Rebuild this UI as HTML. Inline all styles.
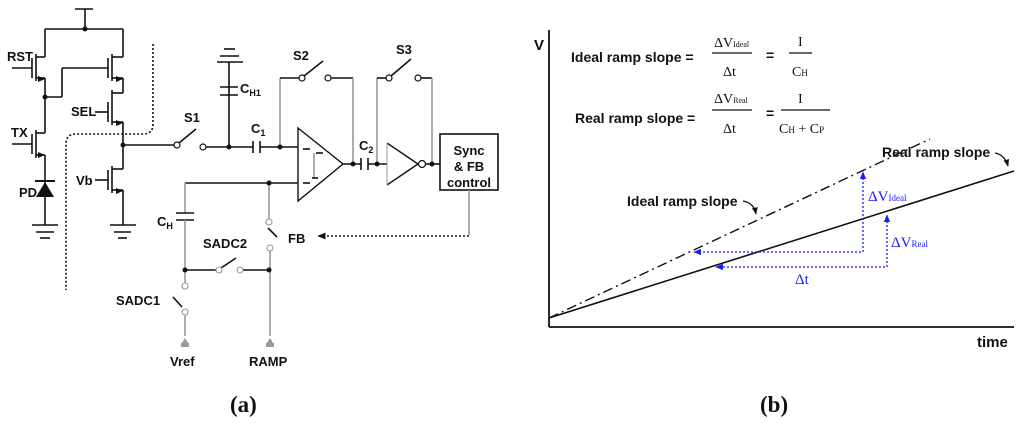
<!DOCTYPE html>
<html><head><meta charset="utf-8"><style>
html,body{margin:0;padding:0;background:#fff;}
svg{display:block;}
.b{font-family:"Liberation Sans",Arial,sans-serif;font-weight:bold;fill:#111;}
.s{font-family:"Liberation Serif",serif;fill:#111;}
.bl{font-family:"Liberation Serif",serif;fill:#1a1aff;}
</style></head><body>
<svg width="1024" height="423" viewBox="0 0 1024 423" xmlns="http://www.w3.org/2000/svg">
<defs>
<marker id="ah" viewBox="0 0 10 10" refX="9" refY="5" markerWidth="6" markerHeight="6" orient="auto-start-reverse"><path d="M0,1 L10,5 L0,9z" fill="#1a1aff"/></marker>
<marker id="ak" viewBox="0 0 10 10" refX="9" refY="5" markerWidth="6" markerHeight="6" orient="auto"><path d="M0,1 L10,5 L0,9z" fill="#111"/></marker>
</defs>
<g stroke="#111" stroke-width="1.6" fill="none">
<line x1="75" y1="9" x2="93" y2="9"/>
<line x1="85" y1="9" x2="85" y2="29"/>
<line x1="45" y1="29" x2="123" y2="29"/>
<line x1="45" y1="29" x2="45" y2="57"/>
<line x1="36" y1="57" x2="45" y2="57"/><line x1="36" y1="78" x2="45" y2="78"/>
<line x1="36" y1="54" x2="36" y2="81"/><line x1="32" y1="58" x2="32" y2="78"/>
<line x1="12" y1="68" x2="32" y2="68"/>
<line x1="45" y1="78" x2="45" y2="133"/>
<line x1="45" y1="97" x2="62" y2="97"/><line x1="62" y1="97" x2="62" y2="68"/><line x1="62" y1="68" x2="108" y2="68"/>
<line x1="36" y1="133" x2="45" y2="133"/><line x1="36" y1="155" x2="45" y2="155"/>
<line x1="36" y1="130" x2="36" y2="158"/><line x1="32" y1="134" x2="32" y2="154"/>
<line x1="12" y1="144" x2="32" y2="144"/>
<line x1="45" y1="155" x2="45" y2="225"/>
<line x1="32" y1="225" x2="58" y2="225"/><line x1="36" y1="232" x2="54" y2="232"/><line x1="40" y1="238" x2="50" y2="238"/>
<line x1="123" y1="29" x2="123" y2="57"/>
<line x1="112" y1="57" x2="123" y2="57"/><line x1="112" y1="78" x2="123" y2="78"/>
<line x1="112" y1="54" x2="112" y2="81"/><line x1="108" y1="58" x2="108" y2="78"/>
<line x1="123" y1="78" x2="123" y2="93"/>
<line x1="112" y1="93" x2="123" y2="93"/><line x1="112" y1="122" x2="123" y2="122"/>
<line x1="112" y1="90" x2="112" y2="125"/><line x1="108" y1="102" x2="108" y2="122"/>
<line x1="95" y1="112" x2="108" y2="112"/>
<line x1="123" y1="122" x2="123" y2="169"/>
<line x1="112" y1="169" x2="123" y2="169"/><line x1="112" y1="190" x2="123" y2="190"/>
<line x1="112" y1="166" x2="112" y2="193"/><line x1="108" y1="170" x2="108" y2="190"/>
<line x1="95" y1="180" x2="108" y2="180"/>
<line x1="123" y1="190" x2="123" y2="225"/>
<line x1="110" y1="225" x2="136" y2="225"/><line x1="114" y1="232" x2="131" y2="232"/><line x1="118" y1="238" x2="127" y2="238"/>
<line x1="123" y1="145" x2="175" y2="145"/>
<line x1="179" y1="143" x2="196" y2="129"/>
<line x1="206" y1="147" x2="253" y2="147"/>
<line x1="229" y1="62" x2="229" y2="147"/>
<line x1="220" y1="87" x2="238" y2="87"/><line x1="220" y1="95" x2="238" y2="95"/>
<line x1="217" y1="62" x2="243" y2="62"/><line x1="220" y1="56" x2="239" y2="56"/><line x1="224" y1="49" x2="235" y2="49"/>
<line x1="253" y1="141" x2="253" y2="153"/><line x1="260" y1="141" x2="260" y2="153"/>
<line x1="260" y1="147" x2="298" y2="147"/>
<line x1="280" y1="147" x2="280" y2="78" stroke="#999"/>
<line x1="280" y1="78" x2="300" y2="78"/>
<line x1="304" y1="76" x2="323" y2="61"/>
<line x1="331" y1="78" x2="353" y2="78"/>
<line x1="353" y1="78" x2="353" y2="164" stroke="#999"/>
<path d="M298,128 L343,164 L298,201 Z" stroke-width="1.4"/>
<line x1="303" y1="149" x2="310" y2="149"/><line x1="316" y1="153" x2="323" y2="153"/>
<line x1="314" y1="153" x2="314" y2="178" stroke="#999"/>
<line x1="303" y1="183" x2="310" y2="183"/><line x1="312" y1="178" x2="318" y2="178"/>
<line x1="343" y1="164" x2="361" y2="164"/>
<line x1="361" y1="158" x2="361" y2="170"/><line x1="368" y1="158" x2="368" y2="170"/>
<line x1="368" y1="164" x2="387" y2="164"/>
<line x1="377" y1="164" x2="377" y2="78" stroke="#999"/>
<line x1="377" y1="78" x2="386" y2="78"/>
<line x1="391" y1="76" x2="411" y2="59"/>
<line x1="421" y1="78" x2="432" y2="78"/>
<line x1="432" y1="78" x2="432" y2="164" stroke="#999"/>
<path d="M387,143 L418,164 L387,185" stroke-width="1.4"/>
<line x1="387" y1="143" x2="387" y2="185" stroke="#999" stroke-width="1"/>
<line x1="426" y1="164" x2="440" y2="164"/>
<rect x="440" y="134" width="58" height="56" stroke-width="1.6"/>
<line x1="469" y1="190" x2="469" y2="235" stroke="#999"/>
<line x1="185" y1="183" x2="298" y2="183"/>
<line x1="185" y1="183" x2="185" y2="213" stroke="#999"/>
<line x1="176" y1="213" x2="194" y2="213"/><line x1="176" y1="220" x2="194" y2="220"/>
<line x1="185" y1="220" x2="185" y2="283" stroke="#999"/>
<line x1="185" y1="270" x2="217" y2="270"/>
<line x1="221" y1="268" x2="236" y2="258"/>
<line x1="243" y1="270" x2="269" y2="270"/>
<line x1="269" y1="183" x2="269" y2="220" stroke="#999"/>
<line x1="268" y1="228" x2="277" y2="237"/>
<line x1="270" y1="251" x2="270" y2="336" stroke="#999"/>
<line x1="173" y1="297" x2="182" y2="307"/>
<line x1="185" y1="315" x2="185" y2="336" stroke="#999"/>
</g>
<g fill="#111">
<path d="M45,79 l-7,-3 v6z M123,79 l-7,-3 v6z M123,123 l-7,-3 v6z M45,155 l-7,-3 v6z M123,191 l-7,-3 v6z"/>
<path d="M36,197 L54,197 L45,182 Z"/><rect x="35" y="180" width="20" height="2"/>
<circle cx="85" cy="29" r="2.5"/><circle cx="45" cy="97" r="2.5"/><circle cx="123" cy="145" r="2.5"/>
<circle cx="229" cy="147" r="2.5"/><circle cx="280" cy="147" r="2.5"/><circle cx="353" cy="164" r="2.5"/>
<circle cx="377" cy="164" r="2.5"/><circle cx="432" cy="164" r="2.5"/><circle cx="269" cy="183" r="2.5"/>
<circle cx="185" cy="270" r="2.5"/><circle cx="269" cy="270" r="2.5"/>
<path d="M182,343 l3,-5 l3,5z M267,343 l3,-5 l3,5z" fill="#999"/>
<rect x="181" y="343" width="8" height="4" fill="#999"/><rect x="266" y="343" width="8" height="4" fill="#999"/>
</g>
<g fill="#fff" stroke="#111" stroke-width="1.2">
<circle cx="177" cy="145" r="3"/><circle cx="203" cy="147" r="3"/>
<circle cx="302" cy="78" r="3"/><circle cx="328" cy="78" r="3"/>
<circle cx="389" cy="78" r="3"/><circle cx="418" cy="78" r="3"/>
<circle cx="422" cy="164" r="3.5"/>
</g>
<g fill="#fff" stroke="#999" stroke-width="1.1">
<circle cx="219" cy="270" r="3"/><circle cx="240" cy="270" r="3"/>
<circle cx="269" cy="222" r="3"/><circle cx="270" cy="248" r="3"/>
<circle cx="185" cy="286" r="3"/><circle cx="185" cy="312" r="3"/>
</g>
<path d="M153,44 V124 Q153,134 143,134 H76 Q66,134 66,144 V290" stroke="#111" stroke-width="1.6" fill="none" stroke-dasharray="2,2"/>
<line x1="469" y1="236" x2="318" y2="236" stroke="#111" stroke-width="1.4" stroke-dasharray="2,2" marker-end="url(#ak)"/>
<g class="b" font-size="13">
<text x="7" y="61">RST</text><text x="71" y="116">SEL</text><text x="11" y="137">TX</text>
<text x="19" y="197">PD</text><text x="76" y="185">Vb</text>
<text x="184" y="122">S1</text><text x="293" y="60">S2</text><text x="396" y="54">S3</text>
<text x="240" y="93">C<tspan font-size="9" dy="3">H1</tspan></text>
<text x="251" y="133">C<tspan font-size="9" dy="3">1</tspan></text>
<text x="359" y="150">C<tspan font-size="9" dy="3">2</tspan></text>
<text x="157" y="226">C<tspan font-size="9" dy="3">H</tspan></text>
<text x="203" y="248">SADC2</text><text x="288" y="243">FB</text>
<text x="116" y="305">SADC1</text><text x="170" y="366">Vref</text><text x="249" y="366">RAMP</text>
<text x="469" y="155" text-anchor="middle">Sync</text><text x="469" y="171" text-anchor="middle">&amp; FB</text><text x="469" y="187" text-anchor="middle">control</text>
<text x="534" y="50" font-size="15">V</text>
<text x="977" y="347" font-size="15">time</text>
<text x="571" y="62" font-size="14">Ideal ramp slope =</text>
<text x="575" y="123" font-size="14">Real ramp slope =</text>
<text x="882" y="157" font-size="14">Real ramp slope</text>
<text x="627" y="206" font-size="14">Ideal ramp slope</text>
</g>
<g class="s" font-size="14">
<text x="714" y="47">ΔV<tspan font-size="8">Ideal</tspan></text>
<line x1="712" y1="53" x2="752" y2="53" stroke="#111" stroke-width="1.3"/>
<text x="723" y="76">Δt</text>
<text x="766" y="60" font-family="Liberation Sans" font-weight="bold">=</text>
<text x="798" y="46">I</text>
<line x1="789" y1="53" x2="812" y2="53" stroke="#111" stroke-width="1.3"/>
<text x="792" y="76">C<tspan font-size="9">H</tspan></text>
<text x="714" y="103">ΔV<tspan font-size="8">Real</tspan></text>
<line x1="712" y1="110" x2="752" y2="110" stroke="#111" stroke-width="1.3"/>
<text x="723" y="133">Δt</text>
<text x="766" y="118" font-family="Liberation Sans" font-weight="bold">=</text>
<text x="798" y="103">I</text>
<line x1="781" y1="110" x2="830" y2="110" stroke="#111" stroke-width="1.3"/>
<text x="779" y="133">C<tspan font-size="9">H</tspan> + C<tspan font-size="9">P</tspan></text>
</g>
<g stroke="#111" fill="none">
<line x1="549" y1="30" x2="549" y2="327" stroke-width="1.8"/>
<line x1="549" y1="327" x2="1014" y2="327" stroke-width="1.8"/>
<line x1="549" y1="318" x2="1014" y2="171" stroke-width="1.6"/>
<line x1="549" y1="318" x2="930" y2="139" stroke-width="1.4" stroke-dasharray="10,4,2,4"/>
<path d="M995,153 Q1005,155 1008,166" stroke-width="1.2" marker-end="url(#ak)"/>
<path d="M743,201 Q754,203 756,214" stroke-width="1.2" marker-end="url(#ak)"/>
</g>
<g stroke="#1a1aff" stroke-width="1.3" fill="none" stroke-dasharray="2,2">
<line x1="863" y1="252" x2="863" y2="172" marker-end="url(#ah)"/>
<line x1="861" y1="252" x2="694" y2="252" marker-end="url(#ah)"/>
<line x1="887" y1="267" x2="887" y2="215" marker-end="url(#ah)"/>
<line x1="885" y1="267" x2="716" y2="267" marker-end="url(#ah)"/>
</g>
<g class="bl" font-size="15">
<text x="868" y="201">ΔV<tspan font-size="9">Ideal</tspan></text>
<text x="891" y="247">ΔV<tspan font-size="9">Real</tspan></text>
<text x="795" y="284">Δt</text>
</g>
<g class="s" font-size="23" font-weight="bold">
<text x="230" y="412">(<tspan>a</tspan>)</text>
<text x="760" y="412">(<tspan>b</tspan>)</text>
</g>
</svg>
</body></html>
